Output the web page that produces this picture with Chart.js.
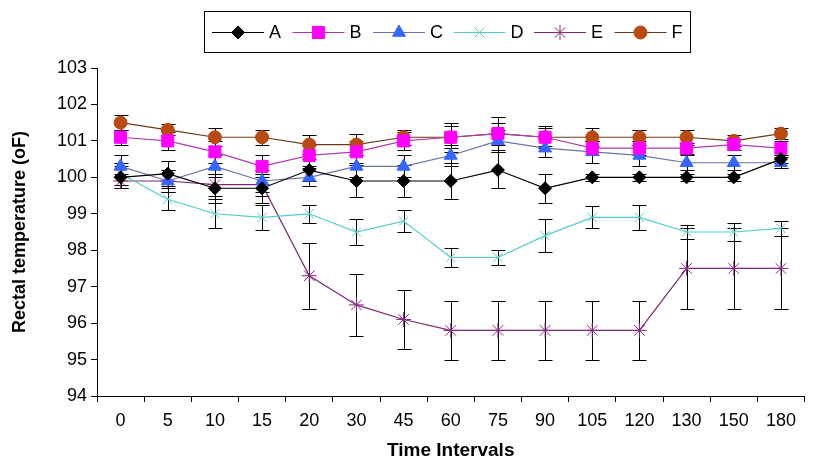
<!DOCTYPE html>
<html>
<head>
<meta charset="utf-8">
<script src="https://cdn.jsdelivr.net/npm/chart.js@4/dist/chart.umd.min.js"></script>
<style>
  html, body { margin: 0; padding: 0; background: #fff; }
  #wrap { width: 814px; height: 466px; }
</style>
</head>
<body>
<div id="wrap"><canvas id="grafico" width="814" height="466"></canvas></div>
<script>
// dados
const tempos = ["0", "5", "10", "15", "20", "30", "45", "60", "75", "90", "105", "120", "130", "150", "180"];
const yTicks = [94, 95, 96, 97, 98, 99, 100, 101, 102, 103];

const serieA = [100.0, 100.1, 99.7, 99.7, 100.2, 99.9, 99.9, 99.9, 100.2, 99.7, 100.0, 100.0, 100.0, 100.0, 100.5];
const serieB = [101.1, 101.0, 100.7, 100.3, 100.6, 100.7, 101.0, 101.1, 101.2, 101.1, 100.8, 100.8, 100.8, 100.9, 100.8];
const serieC = [100.3, 99.9, 100.3, 99.9, 100.0, 100.3, 100.3, 100.6, 101.0, 100.8, 100.7, 100.6, 100.4, 100.4, 100.4];
const serieD = [100.1, 99.4, 99.0, 98.9, 99.0, 98.5, 98.8, 97.8, 97.8, 98.4, 98.9, 98.9, 98.5, 98.5, 98.6];
const serieE = [99.9, 99.9, 99.8, 99.8, 97.3, 96.5, 96.1, 95.8, 95.8, 95.8, 95.8, 95.8, 97.5, 97.5, 97.5];
const serieF = [101.5, 101.3, 101.1, 101.1, 100.9, 100.9, 101.1, 101.1, 101.2, 101.1, 101.1, 101.1, 101.1, 101.0, 101.2];

// desvios (barras de erro)
const erroA = [0.3, 0.35, 0.4, 0.4, 0.3, 0.45, 0.45, 0.5, 0.5, 0.4, 0.1, 0.1, 0.1, 0.1, 0.1];
const erroB = [0.2, 0.25, 0.3, 0.3, 0.3, 0.3, 0.25, 0.3, 0.3, 0.25, 0.2, 0.2, 0.15, 0.15, 0.2];
const erroC = [0.3, 0.3, 0.3, 0.3, 0.25, 0.3, 0.3, 0.3, 0.3, 0.25, 0.3, 0.3, 0.2, 0.2, 0.15];
const erroD = [0.3, 0.3, 0.4, 0.35, 0.25, 0.35, 0.3, 0.25, 0.2, 0.45, 0.3, 0.35, 0.2, 0.25, 0.2];
const erroE = [0.2, 0.3, 0.3, 0.3, 0.9, 0.85, 0.8, 0.8, 0.8, 0.8, 0.8, 0.8, 1.1, 1.1, 1.1];
const erroF = [0.2, 0.15, 0.25, 0.2, 0.25, 0.3, 0.2, 0.4, 0.45, 0.3, 0.25, 0.2, 0.2, 0.15, 0.15];

const fonte = "'Liberation Sans', Arial, sans-serif";

function serie(label, data, erros, linha, cor, estilo, raio) {
    return {
        label: label,
        data: data,
        erros: erros,
        borderColor: linha,
        backgroundColor: cor,
        pointBorderColor: cor,
        pointBackgroundColor: cor,
        pointStyle: estilo,
        pointRadius: raio,
        pointBorderWidth: 1,
        borderWidth: 1.2,
        tension: 0,
        fill: false
    };
}

const datasets = [
    serie("A", serieA, erroA, "#000000", "#000000", "rectRot", 6.5),
    serie("B", serieB, erroB, "#b03cb0", "#ff00ff", "rect", 8.5),
    serie("C", serieC, erroC, "#6a72a8", "#3366ff", "triangle", 7.5),
    serie("D", serieD, erroD, "#55cccc", "#55cccc", "crossRot", 6.5),
    serie("E", serieE, erroE, "#7a2a72", "#8a2a82", "star", 7.5),
    serie("F", serieF, erroF, "#6a3a1a", "#b84a12", "circle", 6.5)
];

// barras de erro desenhadas pelas escalas do proprio chart
const barrasErro = {
    id: "barrasErro",
    beforeDatasetsDraw(chart) {
        const ctx = chart.ctx;
        const y = chart.scales.y;
        ctx.save();
        ctx.strokeStyle = "#000";
        ctx.lineWidth = 1;
        chart.data.datasets.forEach((ds, i) => {
            const meta = chart.getDatasetMeta(i);
            meta.data.forEach((pt, j) => {
                const e = ds.erros[j];
                const y1 = Math.round(y.getPixelForValue(ds.data[j] + e)) + 0.5;
                const y2 = Math.round(y.getPixelForValue(ds.data[j] - e)) + 0.5;
                const x = Math.round(pt.x) + 0.5;
                ctx.beginPath();
                ctx.moveTo(x, y1); ctx.lineTo(x, y2);
                ctx.moveTo(x - 7, y1); ctx.lineTo(x + 7, y1);
                ctx.moveTo(x - 7, y2); ctx.lineTo(x + 7, y2);
                ctx.stroke();
            });
        });
        ctx.restore();
    }
};

// legenda em caixa, com linha + marcador
const legendaCaixa = {
    id: "legendaCaixa",
    afterDraw(chart) {
        const ctx = chart.ctx;
        const x0 = 204, y0 = 11, w = 486, h = 41;
        ctx.save();
        ctx.strokeStyle = "#000";
        ctx.lineWidth = 1;
        ctx.strokeRect(x0 + 0.5, y0 + 0.5, w, h);
        ctx.font = "18px " + fonte;
        ctx.textBaseline = "middle";
        const cy = y0 + h / 2 + 1;
        let x = x0 + 8;
        chart.data.datasets.forEach(ds => {
            ctx.beginPath();
            ctx.strokeStyle = ds.borderColor;
            ctx.lineWidth = 1.2;
            ctx.moveTo(x, cy); ctx.lineTo(x + 52, cy);
            ctx.stroke();
            ctx.fillStyle = ds.pointBackgroundColor;
            ctx.strokeStyle = ds.pointBorderColor;
            ctx.lineWidth = 1;
            Chart.helpers.drawPoint(ctx, {
                pointStyle: ds.pointStyle,
                radius: ds.pointRadius,
                borderWidth: 1,
                rotation: 0
            }, x + 26, cy);
            ctx.fillStyle = "#000";
            ctx.fillText(ds.label, x + 57, cy + 1);
            x += 80.5;
        });
        ctx.restore();
    }
};

new Chart(document.getElementById("grafico").getContext("2d"), {
    type: "line",
    data: { labels: tempos, datasets: datasets },
    options: {
        responsive: false,
        animation: false,
        layout: { padding: { top: 68, right: 2, left: 0, bottom: 0 } },
        plugins: {
            legend: { display: false },
            tooltip: { enabled: false }
        },
        scales: {
            x: {
                offset: true,
                grid: { offset: true, drawOnChartArea: false, color: "#000", tickLength: 6 },
                border: { color: "#000", width: 1 },
                ticks: { color: "#000", font: { family: fonte, size: 18 }, padding: 8, maxRotation: 0 },
                title: { display: true, text: "Time Intervals", color: "#000",
                         font: { family: fonte, size: 19, weight: "bold" }, padding: { top: 6 } },
                afterFit: s => { s.height = 70; }
            },
            y: {
                min: 94,
                max: 103,
                afterBuildTicks: s => { s.ticks = yTicks.map(v => ({ value: v })); },
                grid: { drawOnChartArea: false, color: "#000", tickLength: 6 },
                border: { color: "#000", width: 1 },
                ticks: { color: "#000", font: { family: fonte, size: 18 }, padding: 4 },
                title: { display: true, text: "Rectal temperature (oF)", color: "#000",
                         font: { family: fonte, size: 18, weight: "bold" }, padding: { top: 9, bottom: 2 } },
                afterFit: s => { s.width = 97; }
            }
        }
    },
    plugins: [barrasErro, legendaCaixa]
});
</script>
</body>
</html>
